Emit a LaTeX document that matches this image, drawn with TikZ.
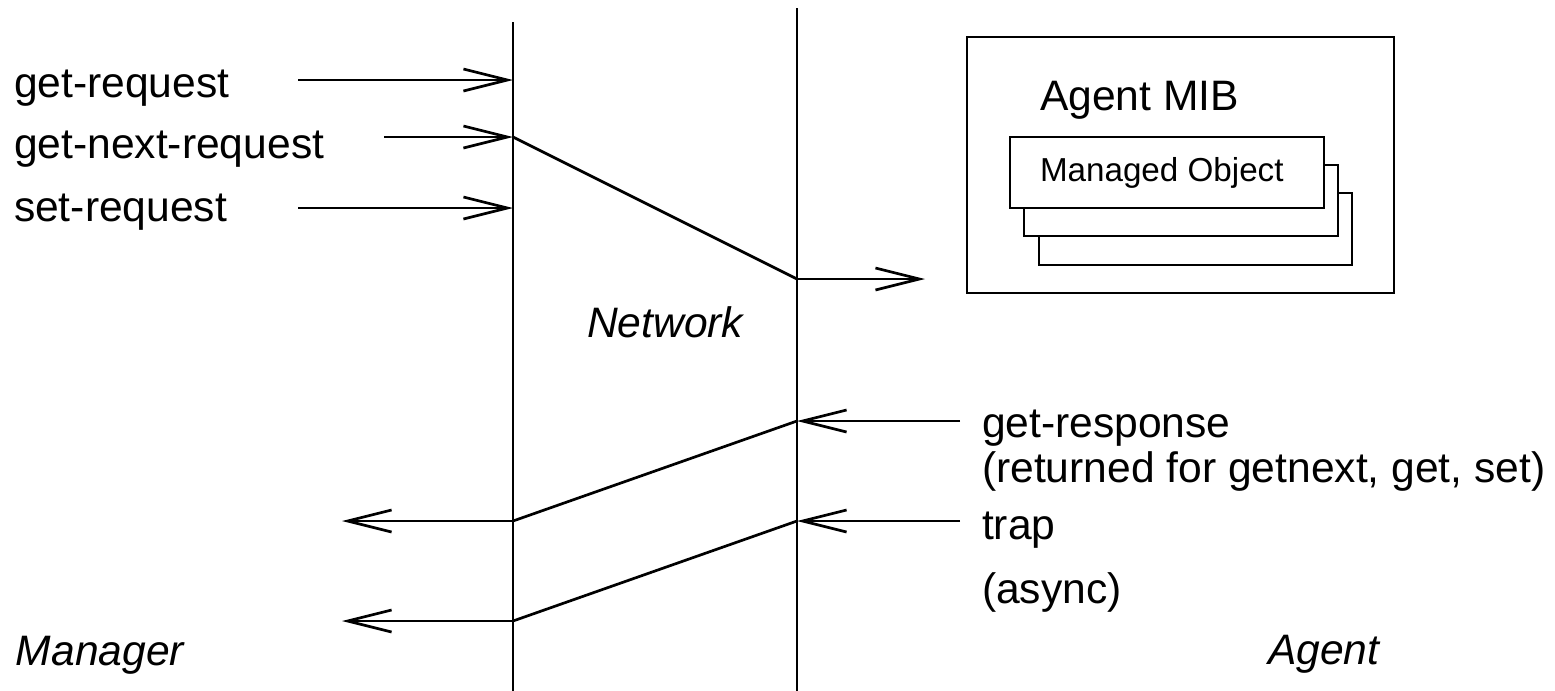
\documentclass[tikz,border=0pt]{standalone}
\usepackage{fontspec}
\setmainfont{Liberation Sans}
\usetikzlibrary{arrows.meta}
\begin{document}
\begin{tikzpicture}[x=0.5pt,y=-0.5pt,
  line width=1.35pt,
  every node/.style={inner sep=0pt,outer sep=0pt},
  lbl/.style={anchor=base west,font=\fontsize{21.3}{25}\selectfont},
  ilbl/.style={anchor=base west,font=\fontsize{21.3}{25}\selectfont\itshape},
  small/.style={anchor=base west,font=\fontsize{16.6}{20}\selectfont},
  arr/.style={-{Straight Barb[length=22pt,width=11pt,line width=1.35pt]}},
  box/.style={draw,fill=white}]
\useasboundingbox (0,0) rectangle (1555,691);
% vertical lines
\coordinate (L1) at (513,22);
\coordinate (L2) at (513,691);
\coordinate (R1) at (797,8);
\coordinate (R2) at (797,691);
\draw (L1) -- (L2);
\draw (R1) -- (R2);
% request labels
\node[lbl] (greq) at (14,97) {get-request};
\node[lbl] (gnreq) at (14,158) {get-next-request};
\node[lbl] (sreq) at (14,221) {set-request};
\coordinate (a1s) at (298,80);
\coordinate (a1e) at (513,80);
\coordinate (a2s) at (384,137);
\coordinate (a2e) at (513,137);
\coordinate (a3s) at (298,208);
\coordinate (a3e) at (513,208);
\draw[arr] (a1s) -- (a1e);
\draw[arr] (a2s) -- (a2e);
\draw[arr] (a3s) -- (a3e);
\coordinate (d1) at (797,279);
\coordinate (d1e) at (925,279);
\draw (a2e) -- (d1);
\draw[arr] (d1) -- (d1e);
% agent MIB box
\draw (967,37) rectangle (1394,293);
\node[lbl] (mib) at (1040,110) {Agent MIB};
\draw[box] (1039,193) rectangle (1352,265);
\draw[box] (1024,165) rectangle (1338,236);
\draw[box] (1010,137) rectangle (1324,208);
\node[small] (mo) at (1040,181) {Managed Object};
% network
\node[ilbl] (net) at (587,337) {Network};
% responses
\coordinate (r1s) at (960,421);
\coordinate (r1e) at (797,421);
\coordinate (r2s) at (960,521);
\coordinate (r2e) at (797,521);
\draw[arr] (r1s) -- (r1e);
\draw[arr] (r2s) -- (r2e);
\coordinate (m1) at (513,521);
\coordinate (m2) at (513,621);
\coordinate (m1e) at (342,521);
\coordinate (m2e) at (342,621);
\draw (r1e) -- (m1);
\draw (r2e) -- (m2);
\draw[arr] (m1) -- (m1e);
\draw[arr] (m2) -- (m2e);
\node[lbl] (gresp) at (982,437) {get-response};
\node[lbl] (ret) at (982,482) {(returned for getnext, get, set)};
\node[lbl] (trap) at (982,539) {trap};
\node[lbl] (async) at (982,603) {(async)};
% bottom labels
\node[ilbl] (mgr) at (16,665) {Manager};
\node[ilbl] (agt) at (1268,664) {Agent};
\end{tikzpicture}
\end{document}
